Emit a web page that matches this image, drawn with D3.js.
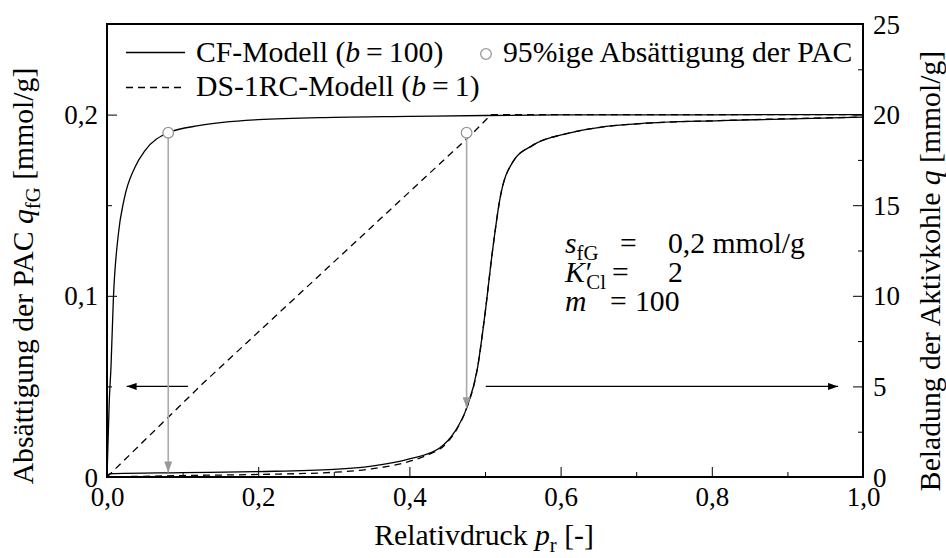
<!DOCTYPE html>
<html>
<head>
<meta charset="utf-8">
<script src="https://cdn.jsdelivr.net/npm/d3@7"></script>
<style>
  body { margin: 0; background: #fff; }
  svg { display: block; }
  text { font-family: "Liberation Serif", "Times New Roman", serif; fill: #000; }
</style>
</head>
<body>
<svg id="chart" width="946" height="558"></svg>
<script>
// Axis ticks and labels
const xTicks = [0, 0.2, 0.4, 0.6, 0.8, 1.0];
const xTickLabels = ["0,0", "0,2", "0,4", "0,6", "0,8", "1,0"];
const xMinorTicks = [0.1, 0.3, 0.5, 0.7, 0.9];
const yLeftTicks = [0, 0.1, 0.2];
const yLeftTickLabels = ["0", "0,1", "0,2"];
const yLeftMinorTicks = [0.05, 0.15];
const yRightTicks = [0, 5, 10, 15, 20, 25];
const yRightTickLabels = ["0", "5", "10", "15", "20", "25"];
const yRightMinorTicks = [2.5, 7.5, 12.5, 17.5, 22.5];

// CF-Modell (b = 100): Absättigung der PAC q_fG [mmol/g] über p_r
const cfPAC = [[0, 0], [0.003, 0.042], [0.0053, 0.061], [0.0084, 0.098], [0.015, 0.134],
  [0.0225, 0.153], [0.037, 0.171], [0.05, 0.18], [0.081, 0.19], [0.123, 0.194],
  [0.2, 0.1972], [0.3, 0.1985], [0.4, 0.199], [0.5, 0.1995], [0.6, 0.1998],
  [0.8, 0.1999], [1.0, 0.2]];
// DS-1RC-Modell (b = 1): Absättigung der PAC
const dsPAC = [[0, 0], [0.127, 0.0517], [0.4845, 0.19], [0.508, 0.2], [1.0, 0.2]];
// CF-Modell: Beladung der Aktivkohle q [mmol/g]
const cfLoad = [[0, 0], [0.004, 0.18], [0.1, 0.24], [0.2, 0.3], [0.3, 0.42], [0.35, 0.6],
  [0.4, 1.0], [0.44, 1.6], [0.46, 2.5], [0.4757, 3.8], [0.49, 6.0], [0.5, 9.0],
  [0.51, 12.5], [0.52, 15.4], [0.537, 17.4], [0.563, 18.3], [0.608, 18.95],
  [0.652, 19.3], [0.705, 19.5], [0.811, 19.67], [1.0, 19.86]];
// DS-1RC-Modell: Beladung der Aktivkohle
const dsLoad = [[0, 0], [0.1, 0.08], [0.2, 0.14], [0.3, 0.26], [0.35, 0.45], [0.39, 0.75],
  [0.42, 1.15], [0.45, 1.9], [0.465, 2.8], [0.4757, 3.8], [0.49, 6.0], [0.5, 9.0],
  [0.51, 12.5], [0.52, 15.4], [0.537, 17.4], [0.563, 18.3], [0.608, 18.95],
  [0.652, 19.3], [0.705, 19.5], [0.811, 19.67], [1.0, 19.86]];

// 95%ige Absättigung der PAC, with the loading each drop line points to
const satPr = [0.081, 0.4757];
const satQfG = [0.19, 0.19];
const satLoad = [0.25, 3.8];

// Axis-pointer arrows (left -> PAC axis, right -> Aktivkohle axis)
const arrowLeftPr = [0.107, 0.026];
const arrowRightPr = [0.501, 0.967];
const arrowLevel = 0.05;

const W = 946, H = 558;
const plot = { left: 107, right: 863, top: 24, bottom: 477 };

const svg = d3.select("#chart");
svg.append("rect").attr("width", W).attr("height", H).attr("fill", "#fff");

const x = d3.scaleLinear().domain([0, 1]).range([plot.left, plot.right]);
const yL = d3.scaleLinear().domain([0, 0.25]).range([plot.bottom, plot.top]);
const yR = d3.scaleLinear().domain([0, 25]).range([plot.bottom, plot.top]);

const defs = svg.append("defs");
defs.append("marker").attr("id", "headBlack")
  .attr("viewBox", "0 0 10 7").attr("refX", 10).attr("refY", 3.5)
  .attr("markerWidth", 10).attr("markerHeight", 7).attr("markerUnits", "userSpaceOnUse")
  .attr("orient", "auto")
  .append("path").attr("d", "M0,0 L10,3.5 L0,7 Z").attr("fill", "#000");
defs.append("marker").attr("id", "headGray")
  .attr("viewBox", "0 0 11 8").attr("refX", 11).attr("refY", 4)
  .attr("markerWidth", 11).attr("markerHeight", 8).attr("markerUnits", "userSpaceOnUse")
  .attr("orient", "auto")
  .append("path").attr("d", "M0,0 L11,4 L0,8 Z").attr("fill", "#999");

const tickFont = 27;
const labelFont = 29.7;

// ---- ticks (inward) ----
function styleAxis(g) {
  g.select(".domain").remove();
  g.selectAll(".tick line").attr("stroke", "#000").attr("stroke-width", 1);
  g.selectAll(".tick text").style("font-size", tickFont + "px")
    .style("font-family", "'Liberation Serif', serif");
}

// bottom
svg.append("g").attr("transform", `translate(0,${plot.bottom})`)
  .call(d3.axisBottom(x).tickValues(xMinorTicks).tickSize(-5).tickFormat(""))
  .call(styleAxis);
const gx = svg.append("g").attr("transform", `translate(0,${plot.bottom})`)
  .call(d3.axisBottom(x).tickValues(xTicks).tickSize(-10)
    .tickFormat((d, i) => xTickLabels[i]))
  .call(styleAxis);
gx.selectAll(".tick text").attr("y", 29).attr("dy", 0);

// left
svg.append("g").attr("transform", `translate(${plot.left},0)`)
  .call(d3.axisLeft(yL).tickValues(yLeftMinorTicks).tickSize(-5).tickFormat(""))
  .call(styleAxis);
svg.append("g").attr("transform", `translate(${plot.left},0)`)
  .call(d3.axisLeft(yL).tickValues(yLeftTicks).tickSize(-10).tickPadding(9)
    .tickFormat((d, i) => yLeftTickLabels[i]))
  .call(styleAxis)
  .selectAll(".tick text").attr("dy", "0.34em");

// right
svg.append("g").attr("transform", `translate(${plot.right},0)`)
  .call(d3.axisRight(yR).tickValues(yRightMinorTicks).tickSize(-5).tickFormat(""))
  .call(styleAxis);
svg.append("g").attr("transform", `translate(${plot.right},0)`)
  .call(d3.axisRight(yR).tickValues(yRightTicks).tickSize(-10).tickPadding(10)
    .tickFormat((d, i) => yRightTickLabels[i]))
  .call(styleAxis)
  .selectAll(".tick text").attr("dy", "0.34em");

// ---- curves ----
const curves = svg.append("g").attr("fill", "none").attr("stroke", "#000").attr("stroke-width", 1.3);
const lineL = d3.line().x(d => x(d[0])).y(d => yL(d[1])).curve(d3.curveMonotoneX);
const lineR = d3.line().x(d => x(d[0])).y(d => yR(d[1])).curve(d3.curveMonotoneX);
const lineLin = d3.line().x(d => x(d[0])).y(d => yL(d[1]));

curves.append("path").attr("d", lineL(cfPAC));
curves.append("path").attr("d", lineLin(dsPAC)).attr("stroke-dasharray", "7,5");
curves.append("path").attr("d", lineR(cfLoad));
curves.append("path").attr("d", lineR(dsLoad)).attr("stroke-dasharray", "7,5");

// ---- axis-pointer arrows ----
svg.append("line")
  .attr("x1", x(arrowLeftPr[0])).attr("x2", x(arrowLeftPr[1]))
  .attr("y1", yL(arrowLevel)).attr("y2", yL(arrowLevel))
  .attr("stroke", "#000").attr("stroke-width", 1.2).attr("marker-end", "url(#headBlack)");
svg.append("line")
  .attr("x1", x(arrowRightPr[0])).attr("x2", x(arrowRightPr[1]))
  .attr("y1", yL(arrowLevel)).attr("y2", yL(arrowLevel))
  .attr("stroke", "#000").attr("stroke-width", 1.2).attr("marker-end", "url(#headBlack)");

// ---- 95% saturation markers with drop lines ----
const sat = satPr.map((p, i) => ({ p, q: satQfG[i], load: satLoad[i] }));
svg.append("g").selectAll("line").data(sat).join("line")
  .attr("x1", d => x(d.p)).attr("x2", d => x(d.p))
  .attr("y1", d => yL(d.q) + 5).attr("y2", d => yR(d.load))
  .attr("stroke", "#aaa").attr("stroke-width", 1.6).attr("marker-end", "url(#headGray)");
svg.append("g").selectAll("circle").data(sat).join("circle")
  .attr("cx", d => x(d.p)).attr("cy", d => yL(d.q)).attr("r", 5.3)
  .attr("fill", "#fff").attr("stroke", "#999").attr("stroke-width", 1.3);

// ---- frame ----
svg.append("rect")
  .attr("x", plot.left).attr("y", plot.top)
  .attr("width", plot.right - plot.left).attr("height", plot.bottom - plot.top)
  .attr("fill", "none").attr("stroke", "#000").attr("stroke-width", 2);

// ---- rich text helper: parts {t, i (italic), sub, sup} ----
function rich(sel, parts, size) {
  const shift = size * 0.22;
  let off = 0;
  parts.forEach(p => {
    const ts = sel.append("tspan").text(p.t);
    let target = 0;
    if (p.sub) target = shift;
    if (p.sup) target = -size * 0.33;
    if (target !== off) { ts.attr("dy", target - off); off = target; }
    if (p.sub || p.sup) ts.style("font-size", (size * 0.7) + "px");
    if (p.i) ts.style("font-style", "italic");
    if (p.dx) ts.attr("dx", p.dx);
  });
  return sel;
}

// ---- axis titles ----
rich(svg.append("text").attr("x", 484).attr("y", 545).attr("text-anchor", "middle")
  .style("font-size", labelFont + "px"),
  [{ t: "Relativdruck " }, { t: "p", i: true }, { t: "r", sub: true }, { t: " [-]" }], labelFont);

rich(svg.append("text").attr("transform", "translate(33,276) rotate(-90)")
  .attr("text-anchor", "middle").style("font-size", labelFont + "px"),
  [{ t: "Absättigung der PAC " }, { t: "q", i: true }, { t: "fG", sub: true }, { t: " [mmol/g]" }], labelFont);

rich(svg.append("text").attr("transform", "translate(940,271) rotate(-90)")
  .attr("text-anchor", "middle").style("font-size", labelFont + "px"),
  [{ t: "Beladung der Aktivkohle " }, { t: "q", i: true }, { t: " [mmol/g]" }], labelFont);

// ---- legend ----
const leg = svg.append("g");
leg.append("line").attr("x1", 126).attr("x2", 185).attr("y1", 52.5).attr("y2", 52.5)
  .attr("stroke", "#000").attr("stroke-width", 1.3);
leg.append("line").attr("x1", 126).attr("x2", 185).attr("y1", 87.5).attr("y2", 87.5)
  .attr("stroke", "#000").attr("stroke-width", 1.3).attr("stroke-dasharray", "7,5");
rich(leg.append("text").attr("x", 196).attr("y", 61.5).style("font-size", labelFont + "px"),
  [{ t: "CF-Modell (" }, { t: "b", i: true }, { t: "=", dx: 6 }, { t: "100)", dx: 6 }], labelFont);
rich(leg.append("text").attr("x", 196).attr("y", 95.5).style("font-size", labelFont + "px"),
  [{ t: "DS-1RC-Modell (" }, { t: "b", i: true }, { t: "=", dx: 6 }, { t: "1)", dx: 6 }], labelFont);
leg.append("circle").attr("cx", 486).attr("cy", 54).attr("r", 5.3)
  .attr("fill", "#fff").attr("stroke", "#999").attr("stroke-width", 1.3);
leg.append("text").attr("x", 503).attr("y", 61.5).style("font-size", labelFont + "px")
  .text("95%ige Absättigung der PAC");

// ---- parameter block ----
const par = svg.append("g").style("font-size", labelFont + "px");
rich(par.append("text").attr("x", 565).attr("y", 253), [{ t: "s", i: true }, { t: "fG", sub: true }], labelFont);
par.append("text").attr("x", 620).attr("y", 253).text("=");
par.append("text").attr("x", 668).attr("y", 253).text("0,2 mmol/g");
rich(par.append("text").attr("x", 565).attr("y", 282),
  [{ t: "K", i: true }, { t: "′", dx: 1 }, { t: "Cl", sub: true, dx: -6 }], labelFont);
par.append("text").attr("x", 612).attr("y", 282).text("=");
par.append("text").attr("x", 668).attr("y", 282).text("2");
rich(par.append("text").attr("x", 565).attr("y", 311), [{ t: "m", i: true }], labelFont);
par.append("text").attr("x", 610).attr("y", 311).text("=");
par.append("text").attr("x", 635).attr("y", 311).text("100");
</script>
</body>
</html>
